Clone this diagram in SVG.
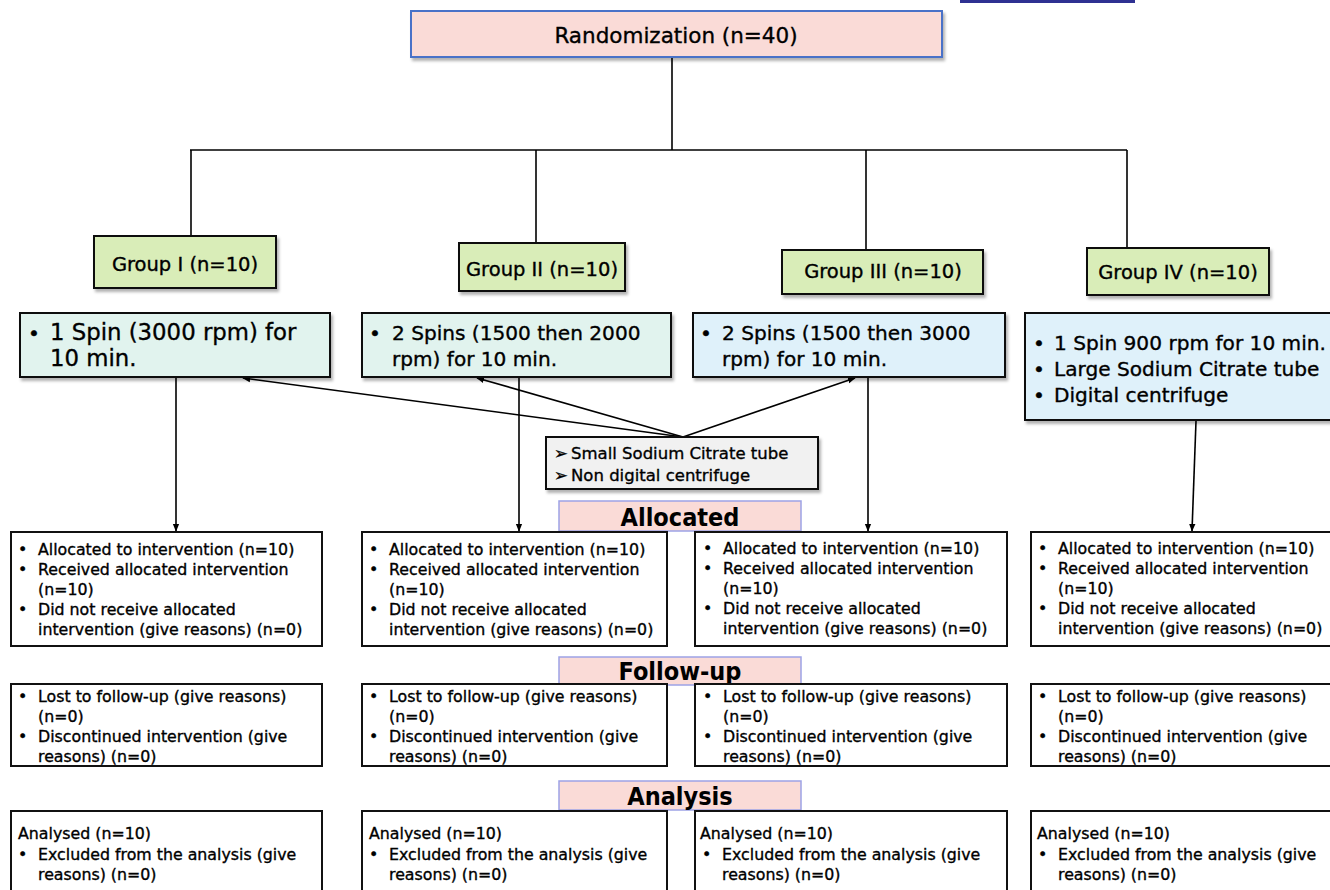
<svg xmlns="http://www.w3.org/2000/svg" width="1330" height="890" viewBox="0 0 1330 890">
<defs>
<marker id="arr" viewBox="0 0 10 10" refX="9" refY="5" markerWidth="8" markerHeight="8" orient="auto" markerUnits="userSpaceOnUse">
<path d="M0,1 L10,5 L0,9 Z" fill="#000"/>
</marker>
<filter id="sh" x="-5%" y="-5%" width="112%" height="120%">
<feDropShadow dx="2" dy="3" stdDeviation="1.5" flood-color="#000" flood-opacity="0.3"/>
</filter>
</defs>
<style>
text{font-family:"DejaVu Sans",sans-serif;fill:#000;stroke:#000;stroke-width:0.35}
.b{stroke:#111;stroke-width:2}
.pink{fill:#fadbd7;stroke:#9da3e6;stroke-width:1.5}
.green{fill:#d9edb8}
.teal{fill:#e1f3ee}
.blue{fill:#dff1fa}
.white{fill:#fff}
.gray{fill:#f1f1f1}
.r{font-size:21.5px}
.g{font-size:19.5px}
.s1{font-size:22.8px}
.s2{font-size:20.1px}
.t15{font-size:15.8px}
.t16{font-size:16.5px}
.h{font-family:"DejaVu Sans Condensed","DejaVu Sans",sans-serif;font-size:25px;font-weight:bold;stroke:none}
.c{text-anchor:middle}
.ln{stroke:#000;stroke-width:1.6;fill:none}
</style>
<rect x="960" y="0" width="175" height="3" fill="#2e3192"/>

<g id="connectors">
<line class="ln" x1="672" y1="57" x2="672" y2="150"/>
<line class="ln" x1="190" y1="150" x2="1127" y2="150"/>
<line class="ln" x1="191" y1="150" x2="191" y2="236"/>
<line class="ln" x1="536" y1="150" x2="536" y2="243"/>
<line class="ln" x1="866" y1="150" x2="866" y2="250"/>
<line class="ln" x1="1127" y1="150" x2="1127" y2="248"/>
<line class="ln" x1="176" y1="377" x2="176" y2="531" marker-end="url(#arr)"/>
<line class="ln" x1="519" y1="377" x2="519" y2="531" marker-end="url(#arr)"/>
<line class="ln" x1="868" y1="377" x2="868" y2="531" marker-end="url(#arr)"/>
<line class="ln" x1="1196" y1="421" x2="1192" y2="531" marker-end="url(#arr)"/>
<line class="ln" x1="683" y1="437" x2="243" y2="378" marker-end="url(#arr)"/>
<line class="ln" x1="683" y1="437" x2="477" y2="378" marker-end="url(#arr)"/>
<line class="ln" x1="683" y1="437" x2="855" y2="378" marker-end="url(#arr)"/>
</g>

<g id="randomization">
<rect x="411" y="11" width="531" height="46" fill="#fadbd7" stroke="#4a72c8" stroke-width="2" filter="url(#sh)"/>
<text class="r c" x="676" y="43">Randomization (n=40)</text>
</g>

<g id="group1"><rect class="b green" x="94" y="236" width="182" height="52" filter="url(#sh)"/><text class="g c" x="185" y="271">Group I (n=10)</text></g>
<g id="group2"><rect class="b green" x="459" y="243" width="166" height="48" filter="url(#sh)"/><text class="g c" x="542" y="276">Group II (n=10)</text></g>
<g id="group3"><rect class="b green" x="782" y="250" width="201" height="44" filter="url(#sh)"/><text class="g c" x="883" y="278">Group III (n=10)</text></g>
<g id="group4"><rect class="b green" x="1087" y="248" width="182" height="47" filter="url(#sh)"/><text class="g c" x="1178" y="279">Group IV (n=10)</text></g>

<g id="spin1"><rect class="b teal" x="20" y="313" width="310" height="64" filter="url(#sh)"/>
<text class="s2" x="28" y="340">•</text><text class="s1" x="50" y="340">1 Spin (3000 rpm) for</text><text class="s1" x="50" y="366">10 min.</text></g>
<g id="spin2"><rect class="b teal" x="362" y="313" width="309" height="64" filter="url(#sh)"/>
<text class="s2" x="369" y="340">•</text><text class="s2" x="392" y="340">2 Spins (1500 then 2000</text><text class="s2" x="392" y="366">rpm) for 10 min.</text></g>
<g id="spin3"><rect class="b blue" x="693" y="313" width="312" height="64" filter="url(#sh)"/>
<text class="s2" x="700" y="340">•</text><text class="s2" x="722" y="340">2 Spins (1500 then 3000</text><text class="s2" x="722" y="366">rpm) for 10 min.</text></g>
<g id="spin4"><rect class="b blue" x="1025" y="313" width="310" height="107" filter="url(#sh)"/>
<text class="s2" x="1033" y="350">•</text><text class="s2" x="1054" y="350" textLength="272" lengthAdjust="spacingAndGlyphs">1 Spin 900 rpm for 10 min.</text>
<text class="s2" x="1033" y="376">•</text><text class="s2" x="1054" y="376">Large Sodium Citrate tube</text>
<text class="s2" x="1033" y="402">•</text><text class="s2" x="1054" y="402">Digital centrifuge</text></g>

<g id="sodium"><rect class="b gray" x="546" y="437" width="272" height="52" filter="url(#sh)"/>
<text class="t16" x="554" y="459">➢</text><text class="t16" x="571" y="459">Small Sodium Citrate tube</text>
<text class="t16" x="554" y="481">➢</text><text class="t16" x="571" y="481">Non digital centrifuge</text></g>

<g id="lbl-allocated"><rect class="pink" x="559" y="501" width="242" height="30"/><text class="h c" x="680" y="526">Allocated</text></g>
<g id="lbl-followup"><rect class="pink" x="559" y="657" width="242" height="28"/><text class="h c" x="680" y="680">Follow-up</text></g>
<g id="lbl-analysis"><rect class="pink" x="559" y="781" width="242" height="29"/><text class="h c" x="680" y="805">Analysis</text></g>

<g id="alloc1"><rect class="b white" x="11" y="532" width="311" height="114"/>
<text class="t15" x="18" y="555">•</text><text class="t15" x="38" y="555">Allocated to intervention (n=10)</text>
<text class="t15" x="18" y="575">•</text><text class="t15" x="38" y="575">Received allocated intervention</text>
<text class="t15" x="38" y="595">(n=10)</text>
<text class="t15" x="18" y="615">•</text><text class="t15" x="38" y="615">Did not receive allocated</text>
<text class="t15" x="38" y="635">intervention (give reasons) (n=0)</text></g>
<g id="alloc2"><rect class="b white" x="362" y="532" width="305" height="114"/>
<text class="t15" x="369" y="555">•</text><text class="t15" x="389" y="555">Allocated to intervention (n=10)</text>
<text class="t15" x="369" y="575">•</text><text class="t15" x="389" y="575">Received allocated intervention</text>
<text class="t15" x="389" y="595">(n=10)</text>
<text class="t15" x="369" y="615">•</text><text class="t15" x="389" y="615">Did not receive allocated</text>
<text class="t15" x="389" y="635">intervention (give reasons) (n=0)</text></g>
<g id="alloc3"><rect class="b white" x="695" y="532" width="312" height="114"/>
<text class="t15" x="703" y="554">•</text><text class="t15" x="723" y="554">Allocated to intervention (n=10)</text>
<text class="t15" x="703" y="574">•</text><text class="t15" x="723" y="574">Received allocated intervention</text>
<text class="t15" x="723" y="594">(n=10)</text>
<text class="t15" x="703" y="614">•</text><text class="t15" x="723" y="614">Did not receive allocated</text>
<text class="t15" x="723" y="634">intervention (give reasons) (n=0)</text></g>
<g id="alloc4"><rect class="b white" x="1031" y="532" width="310" height="114"/>
<text class="t15" x="1038" y="554">•</text><text class="t15" x="1058" y="554">Allocated to intervention (n=10)</text>
<text class="t15" x="1038" y="574">•</text><text class="t15" x="1058" y="574">Received allocated intervention</text>
<text class="t15" x="1058" y="594">(n=10)</text>
<text class="t15" x="1038" y="614">•</text><text class="t15" x="1058" y="614">Did not receive allocated</text>
<text class="t15" x="1058" y="634">intervention (give reasons) (n=0)</text></g>

<g id="follow1"><rect class="b white" x="11" y="684" width="311" height="82"/>
<text class="t15" x="18" y="702">•</text><text class="t15" x="38" y="702">Lost to follow-up (give reasons)</text>
<text class="t15" x="38" y="722">(n=0)</text>
<text class="t15" x="18" y="742">•</text><text class="t15" x="38" y="742">Discontinued intervention (give</text>
<text class="t15" x="38" y="762">reasons) (n=0)</text></g>
<g id="follow2"><rect class="b white" x="362" y="684" width="305" height="82"/>
<text class="t15" x="369" y="702">•</text><text class="t15" x="389" y="702">Lost to follow-up (give reasons)</text>
<text class="t15" x="389" y="722">(n=0)</text>
<text class="t15" x="369" y="742">•</text><text class="t15" x="389" y="742">Discontinued intervention (give</text>
<text class="t15" x="389" y="762">reasons) (n=0)</text></g>
<g id="follow3"><rect class="b white" x="695" y="684" width="312" height="82"/>
<text class="t15" x="703" y="702">•</text><text class="t15" x="723" y="702">Lost to follow-up (give reasons)</text>
<text class="t15" x="723" y="722">(n=0)</text>
<text class="t15" x="703" y="742">•</text><text class="t15" x="723" y="742">Discontinued intervention (give</text>
<text class="t15" x="723" y="762">reasons) (n=0)</text></g>
<g id="follow4"><rect class="b white" x="1031" y="684" width="310" height="82"/>
<text class="t15" x="1038" y="702">•</text><text class="t15" x="1058" y="702">Lost to follow-up (give reasons)</text>
<text class="t15" x="1058" y="722">(n=0)</text>
<text class="t15" x="1038" y="742">•</text><text class="t15" x="1058" y="742">Discontinued intervention (give</text>
<text class="t15" x="1058" y="762">reasons) (n=0)</text></g>

<g id="analysis1"><rect class="b white" x="11" y="811" width="311" height="90"/>
<text class="t15" x="18" y="839">Analysed (n=10)</text>
<text class="t15" x="18" y="860">•</text><text class="t15" x="38" y="860">Excluded from the analysis (give</text>
<text class="t15" x="38" y="880">reasons) (n=0)</text></g>
<g id="analysis2"><rect class="b white" x="362" y="811" width="305" height="90"/>
<text class="t15" x="369" y="839">Analysed (n=10)</text>
<text class="t15" x="369" y="860">•</text><text class="t15" x="389" y="860">Excluded from the analysis (give</text>
<text class="t15" x="389" y="880">reasons) (n=0)</text></g>
<g id="analysis3"><rect class="b white" x="695" y="811" width="312" height="90"/>
<text class="t15" x="700" y="839">Analysed (n=10)</text>
<text class="t15" x="702" y="860">•</text><text class="t15" x="722" y="860">Excluded from the analysis (give</text>
<text class="t15" x="722" y="880">reasons) (n=0)</text></g>
<g id="analysis4"><rect class="b white" x="1031" y="811" width="310" height="90"/>
<text class="t15" x="1037" y="839">Analysed (n=10)</text>
<text class="t15" x="1038" y="860">•</text><text class="t15" x="1058" y="860">Excluded from the analysis (give</text>
<text class="t15" x="1058" y="880">reasons) (n=0)</text></g>
</svg>
